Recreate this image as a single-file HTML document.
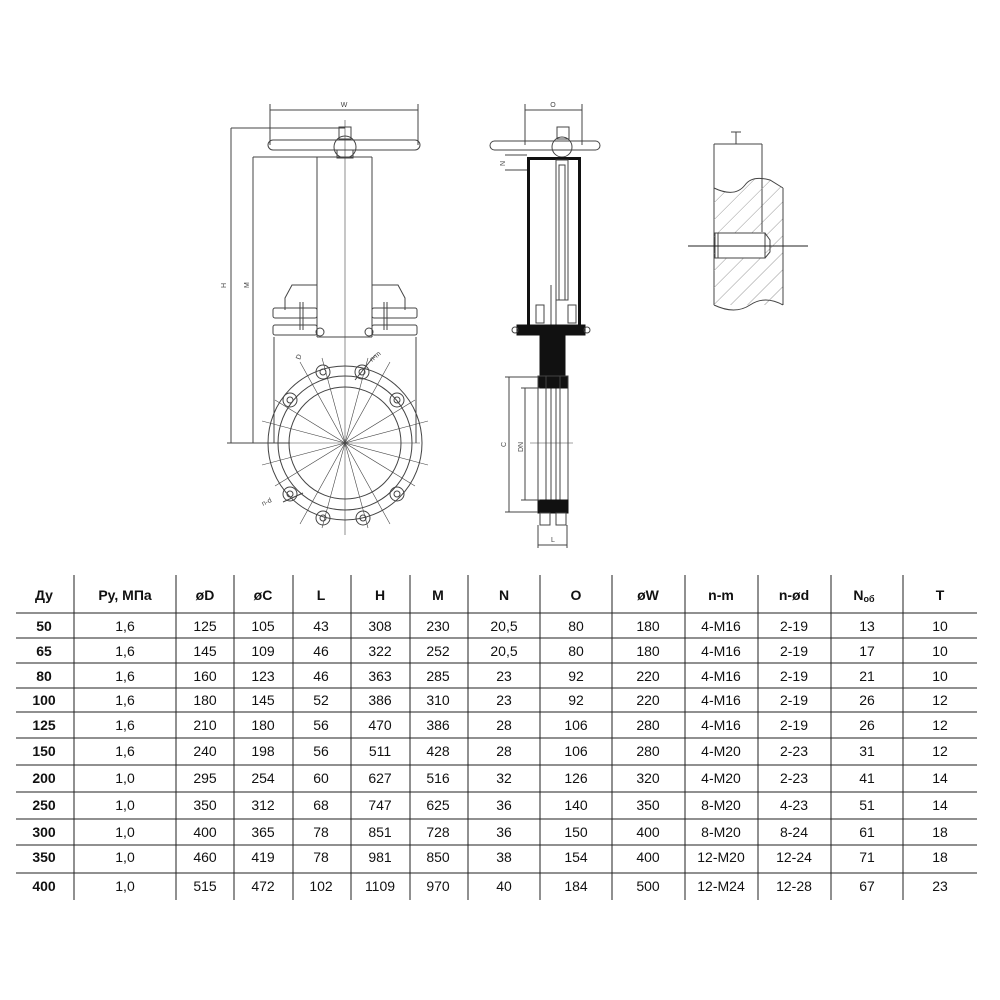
<!DOCTYPE html>
<html><head><meta charset="utf-8"><style>
html,body{margin:0;padding:0;background:#fff;}
body{width:1000px;height:1000px;position:relative;overflow:hidden;font-family:"Liberation Sans",sans-serif;}
svg{position:absolute;left:0;top:0;}
</style></head><body>
<svg width="1000" height="1000" viewBox="0 0 1000 1000" xmlns="http://www.w3.org/2000/svg" font-family="Liberation Sans, sans-serif">
<defs>
<pattern id="h" width="12" height="12" patternUnits="userSpaceOnUse" patternTransform="rotate(45)"><line x1="0" y1="0" x2="0" y2="12" stroke="#999" stroke-width="1"/></pattern>
</defs>
<g fill="none" stroke="#444" stroke-width="1">
<!-- FRONT VIEW -->
<line x1="270" y1="110" x2="418" y2="110"/>
<line x1="270" y1="104" x2="270" y2="145"/><line x1="418" y1="104" x2="418" y2="145"/>
<text x="344" y="107" font-size="7" fill="#444" stroke="none" text-anchor="middle">W</text>
<rect x="268" y="140" width="152" height="10" rx="5"/>
<circle cx="345" cy="147" r="11"/>
<rect x="339" y="127" width="12" height="12"/>
<rect x="337" y="150" width="16" height="8"/>
<line x1="231" y1="128" x2="345" y2="128"/>
<line x1="231" y1="128" x2="231" y2="443"/>
<line x1="253" y1="157" x2="253" y2="443"/>
<line x1="227" y1="443" x2="290" y2="443"/>
<text x="226" y="288" font-size="7" fill="#444" stroke="none" transform="rotate(-90 226 288)">H</text>
<text x="249" y="288" font-size="7" fill="#444" stroke="none" transform="rotate(-90 249 288)">M</text>
<line x1="253" y1="157" x2="372" y2="157"/>
<line x1="317" y1="157" x2="317" y2="337"/>
<line x1="372" y1="157" x2="372" y2="337"/>
<line x1="345" y1="120" x2="345" y2="535" stroke-width="0.6"/>
<path d="M285 310 L285 298 L292 285 L317 285"/>
<path d="M405 310 L405 298 L398 285 L372 285"/>
<rect x="273" y="308" width="44" height="10" rx="2"/>
<rect x="273" y="325" width="44" height="10" rx="2"/>
<rect x="372" y="308" width="45" height="10" rx="2"/>
<rect x="372" y="325" width="45" height="10" rx="2"/>
<line x1="300" y1="302" x2="300" y2="330"/><line x1="303" y1="302" x2="303" y2="330"/>
<line x1="384" y1="302" x2="384" y2="330"/><line x1="387" y1="302" x2="387" y2="330"/>
<circle cx="320" cy="332" r="4"/><circle cx="369" cy="332" r="4"/>
<line x1="317" y1="337" x2="372" y2="337"/>
<line x1="274" y1="337" x2="274" y2="443"/>
<line x1="416" y1="337" x2="416" y2="443"/>
<circle cx="345" cy="443" r="77"/>
<circle cx="345" cy="443" r="67"/>
<circle cx="345" cy="443" r="56"/>
<g>
<circle cx="323" cy="372" r="7"/><circle cx="323" cy="372" r="3"/>
<circle cx="362" cy="372" r="7"/><circle cx="362" cy="372" r="3"/>
<circle cx="290" cy="400" r="7"/><circle cx="290" cy="400" r="3"/>
<circle cx="397" cy="400" r="7"/><circle cx="397" cy="400" r="3"/>
<circle cx="290" cy="494" r="7"/><circle cx="290" cy="494" r="3"/>
<circle cx="397" cy="494" r="7"/><circle cx="397" cy="494" r="3"/>
<circle cx="323" cy="518" r="7"/><circle cx="323" cy="518" r="3"/>
<circle cx="363" cy="518" r="7"/><circle cx="363" cy="518" r="3"/>
</g>
<g stroke-width="0.6">
<line x1="262" y1="421" x2="428" y2="465"/>
<line x1="262" y1="465" x2="428" y2="421"/>
<line x1="300" y1="362" x2="390" y2="524"/>
<line x1="390" y1="362" x2="300" y2="524"/>
<line x1="322" y1="358" x2="368" y2="528"/>
<line x1="368" y1="358" x2="322" y2="528"/>
<line x1="275" y1="400" x2="415" y2="486"/>
<line x1="275" y1="486" x2="415" y2="400"/>
<line x1="285" y1="443" x2="420" y2="443"/>
</g>
<line x1="355" y1="380" x2="375" y2="355"/>
<text x="372" y="362" font-size="7" fill="#444" stroke="none" transform="rotate(-40 372 362)">n-m</text>
<text x="300" y="360" font-size="7" fill="#444" stroke="none" transform="rotate(-70 300 360)">D</text>
<line x1="283" y1="502" x2="303" y2="493"/>
<text x="263" y="506" font-size="7" fill="#444" stroke="none" transform="rotate(-25 263 506)">n-d</text>
<!-- SIDE VIEW -->
<line x1="525" y1="110" x2="582" y2="110"/>
<line x1="525" y1="104" x2="525" y2="145"/><line x1="582" y1="104" x2="582" y2="145"/>
<text x="553" y="107" font-size="7" fill="#444" stroke="none" text-anchor="middle">O</text>
<rect x="490" y="141" width="110" height="9" rx="4.5"/>
<rect x="557" y="127" width="12" height="12"/>
<circle cx="562" cy="147" r="10"/>
<line x1="505" y1="155" x2="527" y2="155"/><line x1="505" y1="170" x2="527" y2="170"/>
<text x="505" y="166" font-size="7" fill="#444" stroke="none" transform="rotate(-90 505 166)">N</text>
<rect x="528.5" y="158.5" width="51" height="170" stroke="#111" stroke-width="3"/>
<rect x="556" y="160" width="12" height="140"/>
<rect x="559" y="165" width="6" height="135"/>
<line x1="551" y1="285" x2="551" y2="505"/><line x1="556" y1="285" x2="556" y2="505"/>
<rect x="517" y="325" width="68" height="10" fill="#111" stroke="#111"/>
<rect x="540" y="335" width="25" height="43" fill="#111" stroke="#111"/>
<rect x="538" y="376" width="30" height="12" fill="#111" stroke="#111"/>
<rect x="538" y="376" width="30" height="128"/>
<line x1="546" y1="376" x2="546" y2="504"/><line x1="560" y1="376" x2="560" y2="504"/>
<rect x="538" y="500" width="30" height="13" fill="#111" stroke="#111"/>
<rect x="540" y="513" width="10" height="12"/><rect x="556" y="513" width="10" height="12"/>
<rect x="536" y="305" width="8" height="18"/><rect x="568" y="305" width="8" height="18"/>
<circle cx="515" cy="330" r="3"/><circle cx="587" cy="330" r="3"/>
<line x1="509" y1="377" x2="509" y2="512"/>
<line x1="505" y1="377" x2="538" y2="377"/><line x1="505" y1="512" x2="538" y2="512"/>
<line x1="525" y1="388" x2="525" y2="500"/>
<line x1="521" y1="388" x2="540" y2="388"/><line x1="521" y1="500" x2="540" y2="500"/>
<text x="506" y="447" font-size="7" fill="#444" stroke="none" transform="rotate(-90 506 447)">C</text>
<text x="523" y="452" font-size="7" fill="#444" stroke="none" transform="rotate(-90 523 452)">DN</text>
<line x1="530" y1="443" x2="573" y2="443" stroke-width="0.6"/>
<line x1="538" y1="525" x2="538" y2="548"/><line x1="567" y1="525" x2="567" y2="548"/>
<line x1="538" y1="545" x2="567" y2="545"/>
<text x="551" y="542" font-size="7" fill="#444" stroke="none">L</text>
<!-- DETAIL -->
<line x1="736" y1="132" x2="736" y2="144"/><line x1="731" y1="132" x2="741" y2="132"/>
<line x1="714" y1="144" x2="762" y2="144"/>
<line x1="714" y1="144" x2="714" y2="305"/>
<line x1="762" y1="144" x2="762" y2="190"/>
<path d="M714 188 Q735 198 745 185 Q752 175 770 180 L783 188 L783 305 L714 305 Z" fill="url(#h)" stroke="none"/>
<path d="M714 188 Q735 198 745 185 Q752 175 770 180 L783 188"/>
<line x1="783" y1="188" x2="783" y2="305"/>
<line x1="762" y1="190" x2="762" y2="232"/>
<path d="M714 305 Q735 315 750 305 Q765 295 783 305" />
<rect x="715" y="233" width="50" height="25" fill="#fff"/>
<line x1="718" y1="233" x2="718" y2="258"/>
<path d="M765 233 L770 240 L770 252 L765 258"/>
<line x1="688" y1="246" x2="808" y2="246" stroke="#222"/>
</g>
<!-- TABLE -->
<g stroke="#222" stroke-width="1">
<line x1="16" y1="613" x2="977" y2="613"/>
<line x1="16" y1="638" x2="977" y2="638"/>
<line x1="16" y1="663" x2="977" y2="663"/>
<line x1="16" y1="688" x2="977" y2="688"/>
<line x1="16" y1="712" x2="977" y2="712"/>
<line x1="16" y1="738" x2="977" y2="738"/>
<line x1="16" y1="765" x2="977" y2="765"/>
<line x1="16" y1="792" x2="977" y2="792"/>
<line x1="16" y1="819" x2="977" y2="819"/>
<line x1="16" y1="845" x2="977" y2="845"/>
<line x1="16" y1="873" x2="977" y2="873"/>
<line x1="74" y1="575" x2="74" y2="900"/>
<line x1="176" y1="575" x2="176" y2="900"/>
<line x1="234" y1="575" x2="234" y2="900"/>
<line x1="293" y1="575" x2="293" y2="900"/>
<line x1="351" y1="575" x2="351" y2="900"/>
<line x1="410" y1="575" x2="410" y2="900"/>
<line x1="468" y1="575" x2="468" y2="900"/>
<line x1="540" y1="575" x2="540" y2="900"/>
<line x1="612" y1="575" x2="612" y2="900"/>
<line x1="685" y1="575" x2="685" y2="900"/>
<line x1="758" y1="575" x2="758" y2="900"/>
<line x1="831" y1="575" x2="831" y2="900"/>
<line x1="903" y1="575" x2="903" y2="900"/>
</g>
<g font-size="14" fill="#111" text-anchor="middle">
<g font-weight="bold">
<text x="44" y="600">Ду</text><text x="125" y="600">Ру, МПа</text><text x="205" y="600">øD</text><text x="263" y="600">øC</text><text x="321" y="600">L</text><text x="380" y="600">H</text><text x="438" y="600">M</text><text x="504" y="600">N</text><text x="576" y="600">O</text><text x="648" y="600">øW</text><text x="721" y="600">n-m</text><text x="794" y="600">n-ød</text><text x="864" y="600">N<tspan font-size="9" dy="2">об</tspan></text><text x="940" y="600">T</text>
<text x="44" y="631">50</text><text x="44" y="656">65</text><text x="44" y="681">80</text><text x="44" y="705">100</text><text x="44" y="730">125</text><text x="44" y="756">150</text><text x="44" y="783">200</text><text x="44" y="810">250</text><text x="44" y="837">300</text><text x="44" y="862">350</text><text x="44" y="891">400</text>
</g>
<g>
<text y="631"><tspan x="125">1,6</tspan><tspan x="205">125</tspan><tspan x="263">105</tspan><tspan x="321">43</tspan><tspan x="380">308</tspan><tspan x="438">230</tspan><tspan x="504">20,5</tspan><tspan x="576">80</tspan><tspan x="648">180</tspan><tspan x="721">4-M16</tspan><tspan x="794">2-19</tspan><tspan x="867">13</tspan><tspan x="940">10</tspan></text>
<text y="656"><tspan x="125">1,6</tspan><tspan x="205">145</tspan><tspan x="263">109</tspan><tspan x="321">46</tspan><tspan x="380">322</tspan><tspan x="438">252</tspan><tspan x="504">20,5</tspan><tspan x="576">80</tspan><tspan x="648">180</tspan><tspan x="721">4-M16</tspan><tspan x="794">2-19</tspan><tspan x="867">17</tspan><tspan x="940">10</tspan></text>
<text y="681"><tspan x="125">1,6</tspan><tspan x="205">160</tspan><tspan x="263">123</tspan><tspan x="321">46</tspan><tspan x="380">363</tspan><tspan x="438">285</tspan><tspan x="504">23</tspan><tspan x="576">92</tspan><tspan x="648">220</tspan><tspan x="721">4-M16</tspan><tspan x="794">2-19</tspan><tspan x="867">21</tspan><tspan x="940">10</tspan></text>
<text y="705"><tspan x="125">1,6</tspan><tspan x="205">180</tspan><tspan x="263">145</tspan><tspan x="321">52</tspan><tspan x="380">386</tspan><tspan x="438">310</tspan><tspan x="504">23</tspan><tspan x="576">92</tspan><tspan x="648">220</tspan><tspan x="721">4-M16</tspan><tspan x="794">2-19</tspan><tspan x="867">26</tspan><tspan x="940">12</tspan></text>
<text y="730"><tspan x="125">1,6</tspan><tspan x="205">210</tspan><tspan x="263">180</tspan><tspan x="321">56</tspan><tspan x="380">470</tspan><tspan x="438">386</tspan><tspan x="504">28</tspan><tspan x="576">106</tspan><tspan x="648">280</tspan><tspan x="721">4-M16</tspan><tspan x="794">2-19</tspan><tspan x="867">26</tspan><tspan x="940">12</tspan></text>
<text y="756"><tspan x="125">1,6</tspan><tspan x="205">240</tspan><tspan x="263">198</tspan><tspan x="321">56</tspan><tspan x="380">511</tspan><tspan x="438">428</tspan><tspan x="504">28</tspan><tspan x="576">106</tspan><tspan x="648">280</tspan><tspan x="721">4-M20</tspan><tspan x="794">2-23</tspan><tspan x="867">31</tspan><tspan x="940">12</tspan></text>
<text y="783"><tspan x="125">1,0</tspan><tspan x="205">295</tspan><tspan x="263">254</tspan><tspan x="321">60</tspan><tspan x="380">627</tspan><tspan x="438">516</tspan><tspan x="504">32</tspan><tspan x="576">126</tspan><tspan x="648">320</tspan><tspan x="721">4-M20</tspan><tspan x="794">2-23</tspan><tspan x="867">41</tspan><tspan x="940">14</tspan></text>
<text y="810"><tspan x="125">1,0</tspan><tspan x="205">350</tspan><tspan x="263">312</tspan><tspan x="321">68</tspan><tspan x="380">747</tspan><tspan x="438">625</tspan><tspan x="504">36</tspan><tspan x="576">140</tspan><tspan x="648">350</tspan><tspan x="721">8-M20</tspan><tspan x="794">4-23</tspan><tspan x="867">51</tspan><tspan x="940">14</tspan></text>
<text y="837"><tspan x="125">1,0</tspan><tspan x="205">400</tspan><tspan x="263">365</tspan><tspan x="321">78</tspan><tspan x="380">851</tspan><tspan x="438">728</tspan><tspan x="504">36</tspan><tspan x="576">150</tspan><tspan x="648">400</tspan><tspan x="721">8-M20</tspan><tspan x="794">8-24</tspan><tspan x="867">61</tspan><tspan x="940">18</tspan></text>
<text y="862"><tspan x="125">1,0</tspan><tspan x="205">460</tspan><tspan x="263">419</tspan><tspan x="321">78</tspan><tspan x="380">981</tspan><tspan x="438">850</tspan><tspan x="504">38</tspan><tspan x="576">154</tspan><tspan x="648">400</tspan><tspan x="721">12-M20</tspan><tspan x="794">12-24</tspan><tspan x="867">71</tspan><tspan x="940">18</tspan></text>
<text y="891"><tspan x="125">1,0</tspan><tspan x="205">515</tspan><tspan x="263">472</tspan><tspan x="321">102</tspan><tspan x="380">1109</tspan><tspan x="438">970</tspan><tspan x="504">40</tspan><tspan x="576">184</tspan><tspan x="648">500</tspan><tspan x="721">12-M24</tspan><tspan x="794">12-28</tspan><tspan x="867">67</tspan><tspan x="940">23</tspan></text>
</g>
</g>
</svg>
</body></html>
